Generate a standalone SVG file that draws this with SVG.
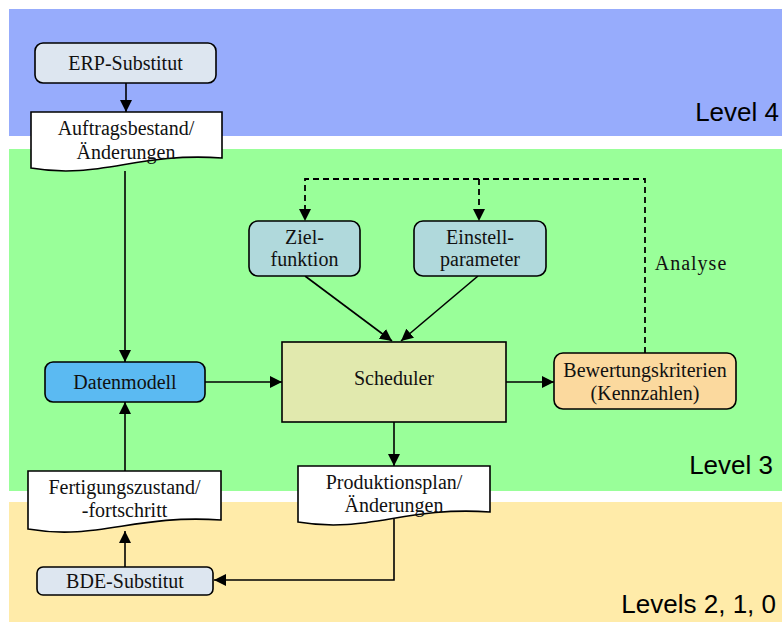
<svg xmlns="http://www.w3.org/2000/svg" width="782" height="622" viewBox="0 0 782 622">
<defs>
<style>
.node{stroke:#000;stroke-width:1.6}
.t{font-family:"Liberation Serif","Times New Roman",serif;font-size:20px;fill:#111;text-anchor:middle}
.lvl{font-family:"Liberation Sans",Arial,sans-serif;font-size:26px;fill:#000;text-anchor:end}
.c{fill:none;stroke:#000;stroke-width:1.6}
.d{fill:none;stroke:#000;stroke-width:1.8;stroke-dasharray:6,4}
</style>
<marker id="ah" viewBox="0 0 12 12" refX="12" refY="6" markerWidth="12" markerHeight="12" markerUnits="userSpaceOnUse" orient="auto">
<path d="M0,0 L12,6 L0,12 Z" fill="#000"/>
</marker>
</defs>
<g id="bands">
<rect x="9" y="9" width="773" height="127" fill="#97acfc"/>
<rect x="9" y="149" width="773" height="342" fill="#99ff99"/>
<rect x="9" y="502" width="773" height="120" fill="#ffeba9"/>
<text class="lvl" x="779" y="121">Level 4</text>
<text class="lvl" x="773" y="474">Level 3</text>
<text class="lvl" x="776" y="613">Levels 2, 1, 0</text>
</g>
<g id="connectors">
<line class="c" x1="126" y1="83" x2="126" y2="112" marker-end="url(#ah)"/>
<line class="c" x1="125" y1="171" x2="125" y2="362" marker-end="url(#ah)"/>
<line class="c" x1="125" y1="471" x2="125" y2="402" marker-end="url(#ah)"/>
<line class="c" x1="125" y1="567" x2="125" y2="531" marker-end="url(#ah)"/>
<line class="c" x1="205" y1="382" x2="282" y2="382" marker-end="url(#ah)"/>
<line class="c" x1="506" y1="382" x2="554" y2="382" marker-end="url(#ah)"/>
<line class="c" x1="305" y1="276" x2="392" y2="341" marker-end="url(#ah)"/>
<line class="c" x1="478" y1="276" x2="401" y2="341" marker-end="url(#ah)"/>
<line class="c" x1="394" y1="422" x2="394" y2="466" marker-end="url(#ah)"/>
<polyline class="c" points="394,519 394,580 214,580" marker-end="url(#ah)"/>
<polyline class="d" points="645,353 645,179 305,179 305,210"/>
<line class="d" x1="479" y1="179" x2="479" y2="210"/>
<path d="M299,209 L311,209 L305,221 Z" fill="#000"/>
<path d="M473,209 L485,209 L479,221 Z" fill="#000"/>
<text class="t" x="691" y="270" letter-spacing="1">Analyse</text>
</g>
<g id="erp">
<rect class="node" x="35" y="43" width="181" height="40" rx="8" fill="#dde6f0"/>
<text class="t" x="125.5" y="70">ERP-Substitut</text>
</g>
<g id="auftragsbestand">
<path class="node" d="M31,112 H222 V158 C136,152 100,180 31,168 Z" fill="#fff"/>
<text class="t" x="126" y="135">Auftragsbestand/</text>
<text class="t" x="126" y="159">Änderungen</text>
</g>
<g id="zielfunktion">
<rect class="node" x="249" y="221" width="111" height="55" rx="9" fill="#b0d9dc"/>
<text class="t" x="304.5" y="244">Ziel-</text>
<text class="t" x="304.5" y="266">funktion</text>
</g>
<g id="einstellparameter">
<rect class="node" x="414" y="221" width="132" height="55" rx="9" fill="#b0d9dc"/>
<text class="t" x="480" y="244">Einstell-</text>
<text class="t" x="480" y="266">parameter</text>
</g>
<g id="datenmodell">
<rect class="node" x="45" y="362" width="160" height="40" rx="8" fill="#5bbaf2"/>
<text class="t" x="125" y="389">Datenmodell</text>
</g>
<g id="scheduler">
<rect class="node" x="282" y="342" width="224" height="80" fill="#e1e9ae"/>
<text class="t" x="394" y="385">Scheduler</text>
</g>
<g id="bewertung">
<rect class="node" x="554" y="353" width="182" height="56" rx="9" fill="#fbd99e"/>
<text class="t" x="645" y="377">Bewertungskriterien</text>
<text class="t" x="645" y="400">(Kennzahlen)</text>
</g>
<g id="produktionsplan">
<path class="node" d="M298,466 H490 V512 C404,506 368,534 298,522 Z" fill="#fff"/>
<text class="t" x="394" y="489">Produktionsplan/</text>
<text class="t" x="394" y="512">Änderungen</text>
</g>
<g id="fertigung">
<path class="node" d="M28,471 H221 V520 C134,514 98,541 28,529 Z" fill="#fff"/>
<text class="t" x="124.5" y="494">Fertigungszustand/</text>
<text class="t" x="124.5" y="517">-fortschritt</text>
</g>
<g id="bde">
<rect class="node" x="37" y="567" width="176" height="28" rx="6" fill="#dde6f0"/>
<text class="t" x="125" y="588">BDE-Substitut</text>
</g>
</svg>
